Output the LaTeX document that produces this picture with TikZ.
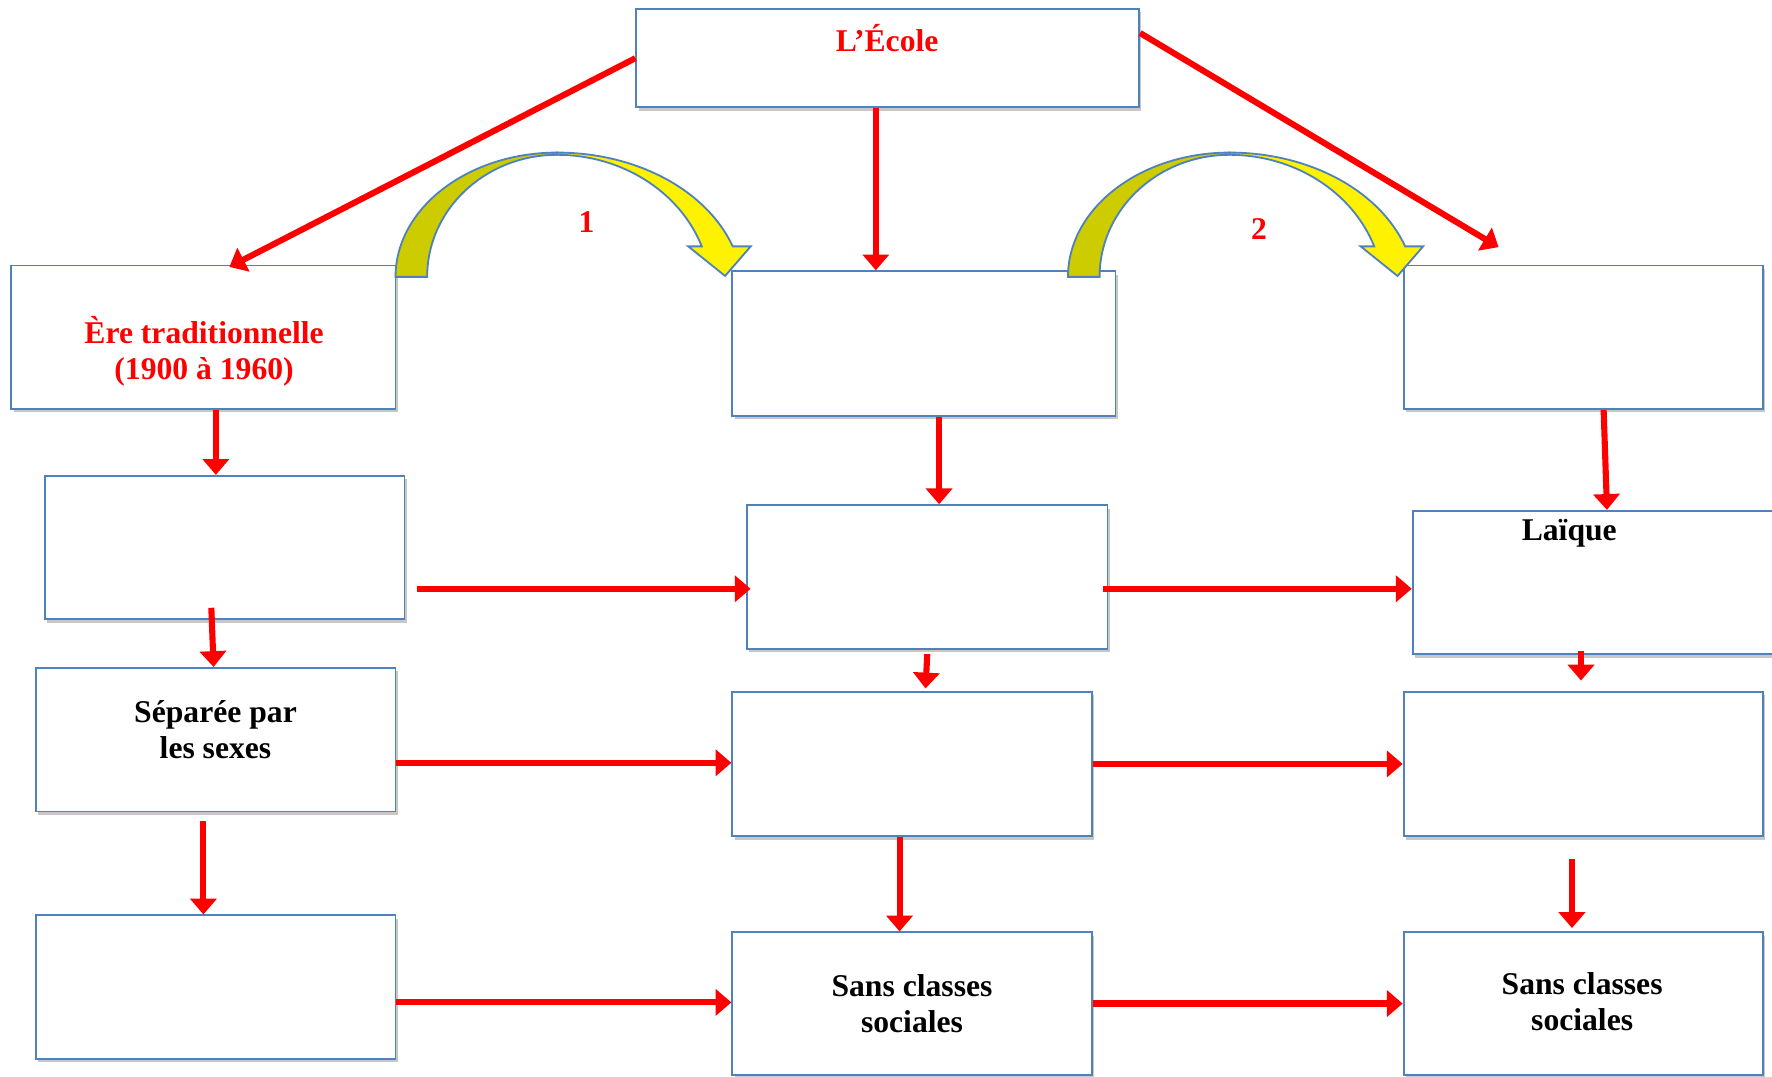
\documentclass[tikz,border=0pt]{standalone}
\usepackage{fontspec}
\setmainfont{Liberation Serif}
\usepackage{tikz}
\usetikzlibrary{arrows.meta,fit,shadows}

\definecolor{boxblue}{RGB}{79,129,189}
\definecolor{arcolive}{RGB}{204,204,0}

\tikzset{
	box/.style={draw=boxblue, line width=0.8pt, fill=white, inner sep=0pt,
		drop shadow={shadow xshift=1pt, shadow yshift=-1.5pt, opacity=0.22, fill=black}},
	lbl/.style={font=\fontsize{14}{16}\selectfont\bfseries, align=center, inner sep=0pt},
	link/.style={draw=red, line width=2.7pt, -{Triangle[length=7pt,width=11.5pt]}},
	arcline/.style={draw=boxblue, line width=0.8pt},
}

\begin{document}
\begin{tikzpicture}[x=0.5pt,y=-0.5pt]
	\useasboundingbox (0,0) rectangle (1568,953);
	
	% boxes
	\node[box, fit={(563,8) (1008,95)}] (ecole) {};
	\node[box, fit={(10,235) (350,362)}] (A) {};
	\node[box, fit={(648,240) (987,368)}] (B) {};
	\node[box, fit={(1242,235) (1560,362)}] (C) {};
	\node[box, fit={(40,421) (358,548)}] (D) {};
	\node[box, fit={(661,447) (980,574)}] (E) {};
	\node[box, fit={(1250,452) (1575,579)}] (F) {};
	\node[box, fit={(32,591) (350,718)}] (G) {};
	\node[box, fit={(648,612) (966,740)}] (H) {};
	\node[box, fit={(1242,612) (1560,740)}] (I) {};
	\node[box, fit={(32,810) (350,937)}] (J) {};
	\node[box, fit={(648,825) (966,951)}] (K) {};
	\node[box, fit={(1242,825) (1560,951)}] (L) {};
	
	% texts
	\node[lbl, red, anchor=base] (title) at (785,46) {L’École};
	\node[lbl, red] (ere) at (180.6,310.5) {Ère traditionnelle\\(1900 à 1960)};
	\node[lbl] (sep) at (190.7,646) {Séparée par\\les sexes};
	\node[lbl, anchor=base] (laique) at (1388.6,478.7) {Laïque};
	\node[lbl] (sansK) at (807,888) {Sans classes\\sociales};
	\node[lbl] (sansL) at (1400,886) {Sans classes\\sociales};
	
	% arrows from the top
	\draw[link] (ecole.west) -- ([xshift=11.5pt,yshift=-1pt]A.north);
	\draw[link] ([xshift=-5.25pt]ecole.south) -- ([xshift=-21.25pt]B.north);
	\draw[link] ([yshift=-11pt]ecole.north east) -- ([xshift=-37.5pt,yshift=7.75pt]C.north);
	
	% vertical arrows
	\draw[link] ([xshift=5.5pt]A.south) -- ([xshift=-4pt]D.north);
	\draw[link] ([xshift=-6pt,yshift=5.5pt]D.south) -- ([xshift=-1pt]G.north);
	\draw[link] ([xshift=-5.5pt,yshift=-4pt]G.south) -- ([xshift=-5.5pt]J.north);
	\draw[link] ([xshift=6.75pt]B.south) -- ([xshift=5.25pt]E.north);
	\draw[link] ([yshift=-2pt]E.south) -- ([xshift=6pt,yshift=1pt]H.north);
	\draw[link] ([xshift=-5.5pt]H.south) -- ([xshift=-5.5pt]K.north);
	\draw[link] ([xshift=9pt]C.south) -- ([xshift=4.75pt]F.north);
	\draw[link] ([xshift=-6.75pt,yshift=2pt]F.south) -- ([xshift=-1pt,yshift=4.5pt]I.north);
	\draw[link] ([xshift=-5pt,yshift=-9.75pt]I.south) -- ([xshift=-5pt,yshift=1.5pt]L.north);
	
	% horizontal arrows
	\draw[link] ([xshift=5pt,yshift=-18.25pt]D.east) -- ([xshift=2pt,yshift=-5.25pt]E.west);
	\draw[link] ([xshift=-2.5pt,yshift=-5.25pt]E.east) -- ([yshift=-2.75pt]F.west);
	\draw[link] ([yshift=-10.25pt]G.east) -- ([yshift=0.5pt]H.west);
	\draw[link] (H.east) -- (I.west);
	\draw[link] ([yshift=-6.75pt]J.east) -- ([yshift=0.5pt]K.west);
	\draw[link] (K.east) -- (L.west);
	
	% curved arrows
	\foreach \dx in {0,595}{
		\begin{scope}[shift={(\dx,0)}]
			\filldraw[arcline, fill=arcolive] (350,245) .. controls (350,184.3) and (414,135) .. (493,135)
				-- (493,137) .. controls (429.5,137) and (378,185.4) .. (378,245) -- cycle;
			\filldraw[arcline, fill=yellow] (493,135) .. controls (563,135) and (625,168) .. (648.4,218)
				-- (664.3,218) -- (641.6,244.2) -- (609,218) -- (621,218)
				.. controls (601.5,169.4) and (550,137) .. (493,137) -- cycle;
		\end{scope}
	}
	\node[lbl, red, anchor=base] (one) at (519,206) {1};
	\node[lbl, red, anchor=base] (two) at (1114,211.6) {2};
\end{tikzpicture}
\end{document}
